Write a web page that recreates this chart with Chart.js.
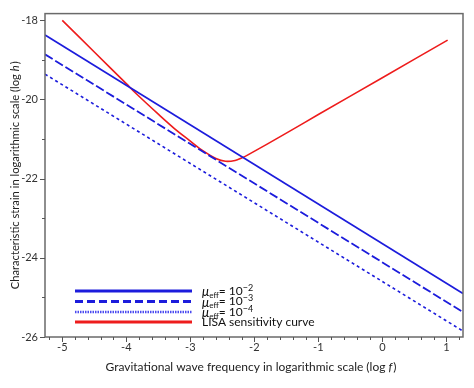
<!DOCTYPE html>
<html>
<head>
<meta charset="utf-8">
<script src="https://cdn.jsdelivr.net/npm/chart.js@4/dist/chart.umd.min.js"></script>
<style>
  html, body { margin: 0; padding: 0; background: #fff; }
</style>
</head>
<body>
<canvas id="myChart" width="474" height="388"></canvas>
<script>
// axis ranges and tick labels (log f, log h)
const xRange = [-5.27, 1.26];
const yRange = [-26, -17.83];
const xTicks = [-5, -4, -3, -2, -1, 0, 1];
const yTicks = [-26, -24, -22, -20, -18];

// three mu_eff lines, read at the plot edges
const muX = [-5.27, 1.26];
const mu2 = [-18.37, -24.90];
const mu3 = [-18.86, -25.37];
const mu4 = [-19.36, -25.85];
const muExponents = ['\u22122', '\u22123', '\u22124'];

// LISA sensitivity curve
const lisaX = [-5.0, -4.5, -4.0, -3.86, -3.5, -3.2, -3.0, -2.8, -2.6, -2.45, -2.3, -2.2, -2.1, -1.5, -1.0, 0.0, 1.02];
const lisaY = [-18.0, -18.8, -19.6, -19.83, -20.37, -20.8, -21.05, -21.3, -21.49, -21.56, -21.54, -21.48, -21.4, -20.85, -20.38, -19.45, -18.5];
const lisaLabel = 'LISA sensitivity curve';

const blue = '#1c1cdc';
const red = '#ee1c1c';
const font = 'Lato, "Open Sans", sans-serif';

function pts(xs, ys) {
  return xs.map((x, i) => ({ x: x, y: ys[i] }));
}

// draws one title string with an italic symbol in it
function mixedTitle(ctx, parts, size, cx, cy) {
  const widths = parts.map(p => {
    ctx.font = (p.it ? 'italic ' : '') + size + 'px ' + font;
    return ctx.measureText(p.t).width + (p.it ? 1 : 0);
  });
  let x = cx - widths.reduce((s, w) => s + w, 0) / 2;
  parts.forEach((p, i) => {
    ctx.font = (p.it ? 'italic ' : '') + size + 'px ' + font;
    ctx.fillText(p.t, x, cy);
    x += widths[i];
  });
}

const decorations = {
  id: 'decorations',
  afterDraw(chart) {
    const ctx = chart.ctx;
    const a = chart.chartArea;
    const xs = chart.scales.x, ys = chart.scales.y;
    ctx.save();

    // frame
    ctx.strokeStyle = '#6a6a6a';
    ctx.lineWidth = 1.5;
    ctx.strokeRect(a.left, a.top, a.right - a.left, a.bottom - a.top);

    // ticks
    ctx.lineWidth = 1;
    ctx.strokeStyle = '#555';
    ctx.beginPath();
    for (let i = -26; i <= 6; i++) {
      const v = i / 5;
      if (v < xRange[0] || v > xRange[1]) continue;
      const px = Math.round(xs.getPixelForValue(v)) + 0.5;
      const len = (i % 5 === 0) ? 5 : 3;
      ctx.moveTo(px, a.bottom);
      ctx.lineTo(px, a.bottom + len);
    }
    for (let v = -26; v <= -18; v += 1) {
      const py = Math.round(ys.getPixelForValue(v)) + 0.5;
      const len = (v % 2 === 0) ? 5 : 3;
      ctx.moveTo(a.left, py);
      ctx.lineTo(a.left - len, py);
    }
    ctx.stroke();

    // axis titles
    ctx.fillStyle = '#222';
    ctx.textBaseline = 'middle';
    ctx.textAlign = 'left';
    mixedTitle(ctx, [
      { t: 'Gravitational wave frequency in logarithmic scale (log ' },
      { t: 'f', it: true },
      { t: ')' }
    ], 12, (a.left + a.right) / 2 - 3, 367);

    ctx.translate(15, (a.top + a.bottom) / 2);
    ctx.rotate(-Math.PI / 2);
    mixedTitle(ctx, [
      { t: 'Characteristic strain in logarithmic scale (log ' },
      { t: 'h', it: true },
      { t: ')' }
    ], 11.2, 0, 0);
    ctx.setTransform(1, 0, 0, 1, 0, 0);

    // legend
    const lx0 = 75, lx1 = 192, tx = 202;
    const rows = [291, 301.5, 312, 322];
    const styles = [
      { c: blue, w: 3, d: [] },
      { c: blue, w: 3, d: [8, 4] },
      { c: '#4a4af0', w: 2.5, d: [1.5, 1] },
      { c: red, w: 3, d: [] }
    ];
    styles.forEach((s, i) => {
      ctx.beginPath();
      ctx.strokeStyle = s.c;
      ctx.lineWidth = s.w;
      ctx.setLineDash(s.d);
      ctx.moveTo(lx0, rows[i]);
      ctx.lineTo(lx1, rows[i]);
      ctx.stroke();
    });
    ctx.setLineDash([]);
    ctx.fillStyle = '#111';
    muExponents.forEach((e, i) => {
      const y = rows[i];
      let x = tx;
      ctx.font = 'italic 13px ' + font;
      ctx.fillText('\u03bc', x, y + 1);
      x += ctx.measureText('\u03bc').width;
      ctx.font = '8px ' + font;
      ctx.fillText('eff', x, y + 4);
      x += ctx.measureText('eff').width;
      ctx.font = '12px ' + font;
      ctx.fillText('= 10', x, y);
      x += ctx.measureText('= 10').width;
      ctx.font = '9px ' + font;
      ctx.fillText(e, x, y - 3);
    });
    ctx.font = '12px ' + font;
    ctx.fillText(lisaLabel, tx, rows[3]);
    ctx.restore();
  }
};

new Chart(document.getElementById('myChart'), {
  type: 'line',
  data: {
    datasets: [
      { label: '\u03bc_eff = 10^-2', data: pts(muX, mu2), borderColor: blue, borderWidth: 1.8, pointRadius: 0 },
      { label: '\u03bc_eff = 10^-3', data: pts(muX, mu3), borderColor: blue, borderWidth: 1.8, borderDash: [9, 3], pointRadius: 0 },
      { label: '\u03bc_eff = 10^-4', data: pts(muX, mu4), borderColor: blue, borderWidth: 1.6, borderDash: [3, 3], pointRadius: 0 },
      { label: lisaLabel, data: pts(lisaX, lisaY), borderColor: red, borderWidth: 1.6, pointRadius: 0, tension: 0.35 }
    ]
  },
  options: {
    responsive: false,
    animation: false,
    layout: { padding: { left: 0, right: 11, top: 6, bottom: 0 } },
    plugins: { legend: { display: false }, tooltip: { enabled: false } },
    scales: {
      x: {
        type: 'linear',
        min: xRange[0],
        max: xRange[1],
        afterBuildTicks: s => { s.ticks = xTicks.map(v => ({ value: v })); },
        afterFit: s => { s.height = 51; },
        grid: { display: false, drawTicks: false },
        border: { display: false },
        ticks: { color: '#333', font: { family: font, size: 11 }, padding: 4, maxRotation: 0 }
      },
      y: {
        min: yRange[0],
        max: yRange[1],
        afterBuildTicks: s => { s.ticks = yTicks.map(v => ({ value: v })); },
        afterFit: s => { s.width = 45; },
        grid: { display: false, drawTicks: false },
        border: { display: false },
        ticks: { color: '#333', font: { family: font, size: 11 }, padding: 7 }
      }
    }
  },
  plugins: [decorations]
});
</script>
</body>
</html>
